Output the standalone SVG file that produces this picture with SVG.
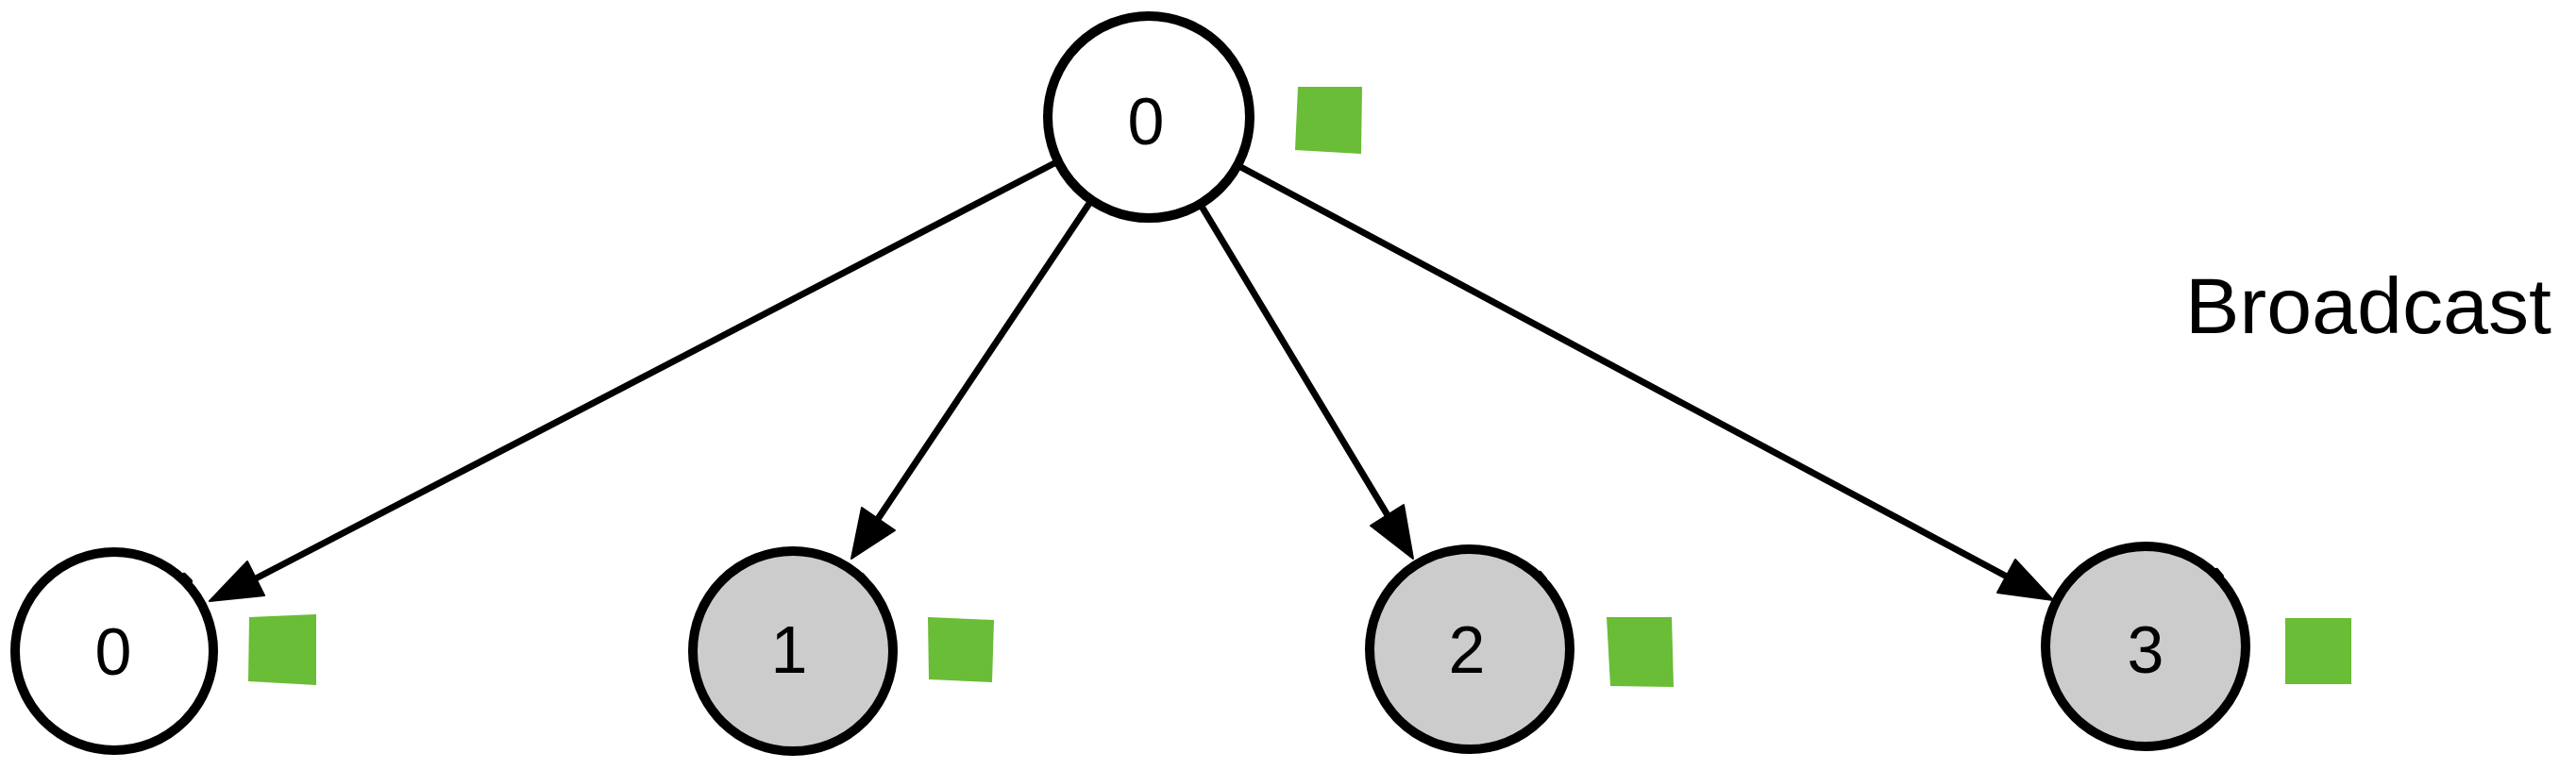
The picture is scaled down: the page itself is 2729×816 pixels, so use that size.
<svg xmlns="http://www.w3.org/2000/svg" width="2729" height="816" viewBox="0 0 2729 816">
  <style>
    .node { stroke: #000; stroke-width: 10; }
    .white { fill: #fff; }
    .grey { fill: #cccccc; }
    .lbl { font-family: "Liberation Sans", Arial, sans-serif; font-size: 70px; fill: #000; text-anchor: middle; }
    .tok { fill: #6abd36; }
    .edge { stroke: #000; stroke-width: 7; fill: none; stroke-linecap: round; }
    .head { fill: #000; stroke: #000; stroke-width: 2; stroke-linejoin: round; }
    .tick { stroke: #000; stroke-width: 6; stroke-linecap: round; fill: none; }
    .title { font-family: "Liberation Sans", Arial, sans-serif; font-size: 84px; fill: #000; }
  </style>
  <rect width="2729" height="816" fill="#fff"/>
  <g id="connectors">
    <line class="edge" x1="1117" y1="173" x2="271" y2="613"/>
    <polygon class="head" points="222,637 262,595 280,631"/>
    <line class="edge" x1="1153" y1="217" x2="930" y2="550"/>
    <polygon class="head" points="902,592 913,538 948,562"/>
    <line class="edge" x1="1272" y1="217" x2="1470" y2="546"/>
    <polygon class="head" points="1497,592 1452,557 1487,535"/>
    <line class="edge" x1="1307" y1="173" x2="2126" y2="611"/>
    <polygon class="head" points="2175,636 2116,628 2135,593"/>
  </g>
  <g id="root">
    <circle class="node white" cx="1217" cy="124" r="107"/>
    <path class="tick" d="M1290,44 L1295,51"/>
    <text class="lbl" x="1214" y="153">0</text>
    <polygon class="tok" points="1375,92 1443,92 1442,163 1372,159"/>
  </g>
  <g id="node0">
    <circle class="node white" cx="121" cy="690" r="105"/>
    <path class="tick" d="M195,610 L201,616"/>
    <text class="lbl" x="120" y="715">0</text>
    <polygon class="tok" points="264,654 335,651 335,726 263,722"/>
  </g>
  <g id="node1">
    <circle class="node grey" cx="840" cy="690" r="106"/>
    <path class="tick" d="M913,610 L918,616"/>
    <text class="lbl" x="836" y="713">1</text>
    <polygon class="tok" points="983,654 1053,657 1051,723 984,720"/>
  </g>
  <g id="node2">
    <circle class="node grey" cx="1557" cy="688" r="106"/>
    <path class="tick" d="M1631,608 L1636,614"/>
    <text class="lbl" x="1554" y="713">2</text>
    <polygon class="tok" points="1702,654 1771,654 1773,728 1706,727"/>
  </g>
  <g id="node3">
    <circle class="node grey" cx="2273" cy="685" r="106"/>
    <path class="tick" d="M2348,605 L2353,611"/>
    <text class="lbl" x="2273" y="713">3</text>
    <polygon class="tok" points="2421,655 2491,655 2491,725 2421,725"/>
  </g>
  <g id="title">
    <text class="title" x="2315" y="353" textLength="388" lengthAdjust="spacingAndGlyphs">Broadcast</text>
  </g>
</svg>
